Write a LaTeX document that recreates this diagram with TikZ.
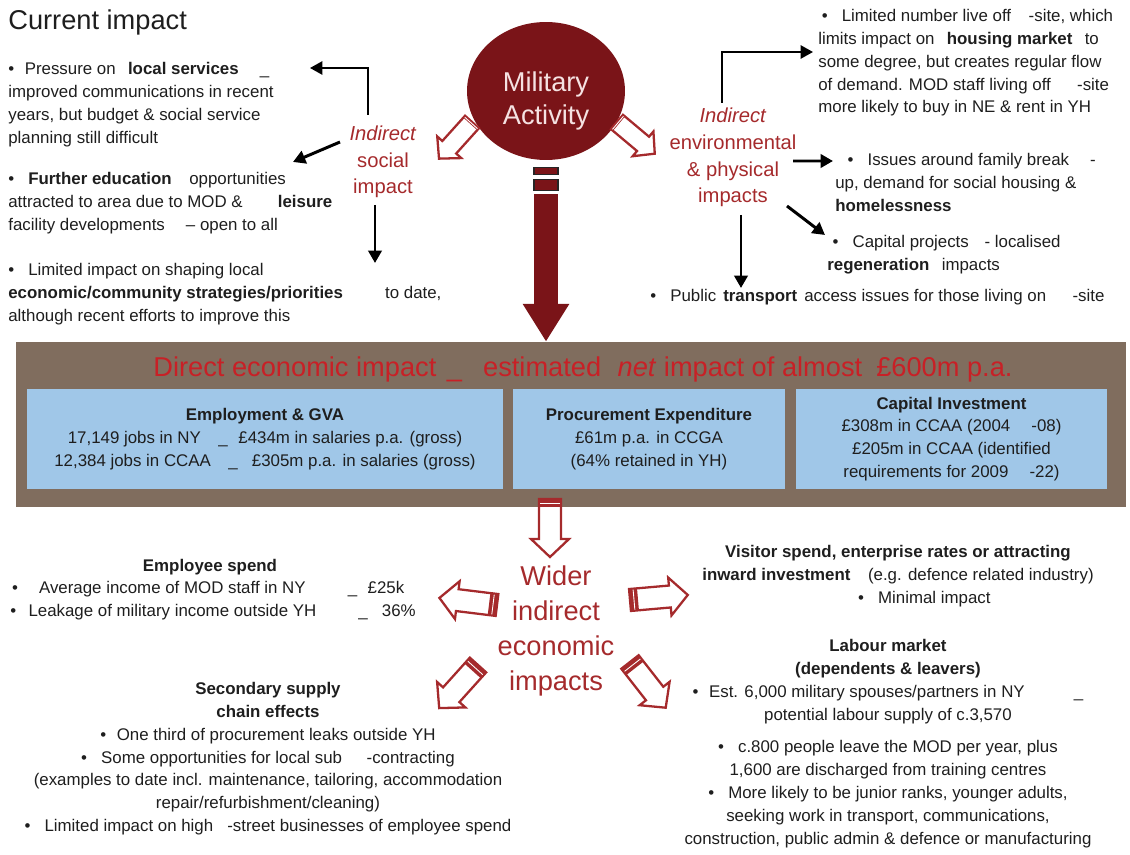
\documentclass[tikz,border=0pt]{standalone}
\usepackage{fontspec}
\setmainfont{Liberation Sans}
\usepackage{xcolor}
\definecolor{MilRed}    {RGB}{122, 20, 24}
\definecolor{LabelRed}  {RGB}{165, 42, 44}
\definecolor{TitleRed}  {RGB}{200, 32, 38}
\definecolor{BandBrown} {RGB}{128,109, 94}
\definecolor{BoxBlue}   {RGB}{160,199,232}
\definecolor{PinkWhite} {RGB}{245,226,226}
\definecolor{InkGray}   {RGB}{ 30, 30, 30}
\usepackage{tikz}
\usetikzlibrary{
  shapes.geometric,
  arrows.meta,
  positioning
}

\begin{document}
\begin{tikzpicture}[
  x=0.02cm, y=-0.02cm,
  text=InkGray,
  body/.style={
    font=\fontsize{9.6}{13}\selectfont,
    inner sep=0pt, align=left,
    anchor=north west},
  cbody/.style={body,
    align=center, anchor=north},
  redlabel/.style={
    text=LabelRed, inner sep=0pt, align=center,
    font=\fontsize{11.5}{15.2}\selectfont},
  conn/.style={
    -{Triangle[length=7pt,width=7.5pt]},
    line width=1.7pt, color=black},
  elbow/.style={conn, line width=1.1pt},
  band/.style={
    fill=BandBrown, inner sep=0pt,
    minimum width=22.2cm, minimum height=3.3cm},
  infobox/.style={
    fill=BoxBlue, inner sep=0pt,
    minimum height=2cm, align=center,
    font=\fontsize{9.6}{13}\selectfont},
  pics/hollowarrow/.style={code={
    \draw[LabelRed, line width=1.3pt, fill=white, line join=miter]
      (0,-11) -- (40,-11) -- (40,-19) -- (58,0)
      -- (40,19) -- (40,11) -- (0,11) -- cycle;
    \fill[LabelRed] (0,-11) rectangle (#1,11);
    \draw[white, line width=0.5pt] (0.5*#1,-10) -- (0.5*#1,10);
  }}
]
\useasboundingbox (0,0) rectangle (1130,855);

% top half
\node[anchor=west, inner sep=0pt,
  font=\fontsize{15.5}{18}\selectfont] (current) at (8,22)
  {Current impact};

\node[ellipse, fill=MilRed, inner sep=0pt,
  minimum width=3.16cm, minimum height=2.76cm] (mil) at (546,91) {};
\node[text=PinkWhite, align=center, inner sep=0pt,
  font=\fontsize{15.5}{18.7}\selectfont] (miltext) at (546,101)
  {Military\\Activity};

\node[redlabel] (soc) at (383,162)
  {\textit{Indirect}\\social\\impact};
\node[redlabel] (env) at (733,157.5)
  {\textit{Indirect}\\environmental\\\& physical\\impacts};

\pic[rotate=228, scale=0.85] at (472,122) {hollowarrow=3};
\pic[rotate=-40, scale=0.85] at (617,122) {hollowarrow=3};

\node[body] (pressure) at (8,62)
  {•\hspace{6pt}Pressure on\hspace{7pt}\textbf{local services}\hspace{12pt}\_\\
   improved communications in recent\\
   years, but budget \& social service\\
   planning still difficult};
\node[body] (further) at (8,172)
  {•\hspace{8pt}\textbf{Further education}\hspace{10pt}opportunities\\
   attracted to area due to MOD \&\hspace{20pt}\textbf{leisure}\\
   facility developments\hspace{12pt}– open to all};
\node[body] (limited) at (8,263)
  {•\hspace{8pt}Limited impact on shaping local\\
   \textbf{economic/community strategies/priorities}\hspace{24pt}to date,\\
   although recent efforts to improve this};

\node[body] (housing) at (818,9)
  {\hspace{2pt}•\hspace{8pt}Limited number live off\hspace{10pt}-site, which\\
   limits impact on\hspace{7pt}\textbf{housing market}\hspace{7pt}to\\
   some degree, but creates regular flow\\
   of demand. MOD staff living off\hspace{15pt}-site\\
   more likely to buy in NE \& rent in YH};
\node[body] (family) at (835,153)
  {\hspace{7pt}•\hspace{8pt}Issues around family break\hspace{12pt}-\\
   up, demand for social housing \&\\
   \textbf{homelessness}};
\node[body] (capital) at (827,235)
  {\hspace{3pt}•\hspace{8pt}Capital projects\hspace{9pt}- localised\\
   \textbf{regeneration}\hspace{7pt}impacts};
\node[body] (transport) at (650,289)
  {•\hspace{8pt}Public\hspace{4pt}\textbf{transport}\hspace{4pt}access issues
   for those living on\hspace{15pt}-site};

\draw[elbow] ([shift={(-15,-47)}]soc.center)
  |- ([shift={(302,6)}]pressure.north west);
\draw[conn] ([shift={(-43,-20)}]soc.center)
  -- ([shift={(285,-10)}]further.north west);
\draw[conn] ([shift={(-8,43)}]soc.center)
  -- ([shift={(367,0)}]limited.north west);

\draw[elbow] ([shift={(-11,-54.5)}]env.center)
  |- ([shift={(-5,43)}]housing.north west);
\draw[conn] ([shift={(60,3.5)}]env.center)
  -- ([shift={(-2,8)}]family.north west);
\draw[conn] ([shift={(54,48.5)}]env.center)
  -- ([shift={(-2,0)}]capital.north west);
\draw[conn] ([shift={(8,57.5)}]env.center)
  -- ([shift={(91,-1)}]transport.north west);

% direct impact band
\node[band] (band) at (571,424.5) {};
\node[text=TitleRed, inner sep=0pt,
  font=\fontsize{15.5}{18}\selectfont] (dtitle) at (583,369)
  {Direct economic impact\hspace{6pt}\_\hspace{12pt}estimated\hspace{5pt}
   \textit{net} impact of almost\hspace{8pt}£600m p.a.};

\node[infobox, minimum width=9.52cm] (employ) at (265,439)
  {\textbf{Employment \& GVA}\\
   17,149 jobs in NY\hspace{10pt}\_\hspace{6pt}£434m in salaries p.a. (gross)\\
   12,384 jobs in CCAA\hspace{10pt}\_\hspace{8pt}£305m p.a. in salaries (gross)};
\node[infobox, minimum width=5.44cm] (procure) at (649,439)
  {\textbf{Procurement Expenditure}\\
   £61m p.a. in CCGA\\
   (64\% retained in YH)};
\node[infobox, minimum width=6.22cm] (capinv) at (951.5,439)
  {\textbf{Capital Investment}\\
   £308m in CCAA (2004\hspace{12pt}-08)\\
   £205m in CCAA (identified\\
   requirements for 2009\hspace{12pt}-22)};

\draw[fill=MilRed, draw=black!85, line width=0.8pt]
  ([shift={(-12,7)}]mil.south) rectangle ([shift={(12,14)}]mil.south);
\draw[fill=MilRed, draw=black!85, line width=0.8pt]
  ([shift={(-12,19)}]mil.south) rectangle ([shift={(12,30)}]mil.south);
\draw[MilRed, line width=13.5pt,
  -{Triangle[length=21.5pt,width=25pt]}]
  ([yshift=-34*0.02cm]mil.south) -- (mil.south |- band.north);

% wider impacts
\node[text=LabelRed, inner sep=0pt, align=center,
  font=\fontsize{15.5}{19.8}\selectfont] (wider) at (556,631)
  {Wider\\indirect\\economic\\impacts};

\pic[rotate=-90] at (550,499) {hollowarrow=8};
\pic[rotate=173] at (497,605) {hollowarrow=8};
\pic[rotate=5]   at (630,600) {hollowarrow=8};
\pic[rotate=228] at (478,665) {hollowarrow=8};
\pic[rotate=-52] at (630,662) {hollowarrow=8};

\node[cbody] (emphead) at (210,559)
  {\textbf{Employee spend}};
\node[body] (spend) at (10,581)
  {\hspace{1pt}•\hspace{12pt}Average income of MOD staff in NY\hspace{24pt}\_\hspace{6pt}£25k\\
   •\hspace{7pt}Leakage of military income outside YH\hspace{24pt}\_\hspace{8pt}36\%};

\node[cbody] (supply) at (268,682)
  {\textbf{Secondary supply}\\
   \textbf{chain effects}\\
   •\hspace{6pt}One third of procurement leaks outside YH\\
   •\hspace{8pt}Some opportunities for local sub\hspace{14pt}-contracting\\
   (examples to date incl. maintenance, tailoring, accommodation\\
   repair/refurbishment/cleaning)\\
   •\hspace{8pt}Limited impact on high\hspace{8pt}-street businesses of employee spend};

\node[cbody] (visitor) at (898,545)
  {\textbf{Visitor spend, enterprise rates or attracting}\\
   \textbf{inward investment}\hspace{10pt}(e.g. defence related industry)\\
   \hspace{30pt}•\hspace{8pt}Minimal impact};

\node[cbody] (labour) at (888,639)
  {\textbf{Labour market}\\
   \textbf{(dependents \& leavers)}\\
   •\hspace{6pt}Est. 6,000 military spouses/partners in NY\hspace{28pt}\_\\
   potential labour supply of c.3,570\\[5.7pt]
   •\hspace{8pt}c.800 people leave the MOD per year, plus\\
   1,600 are discharged from training centres\\
   •\hspace{8pt}More likely to be junior ranks, younger adults,\\
   seeking work in transport, communications,\\
   construction, public admin \& defence or manufacturing};
\end{tikzpicture}
\end{document}
